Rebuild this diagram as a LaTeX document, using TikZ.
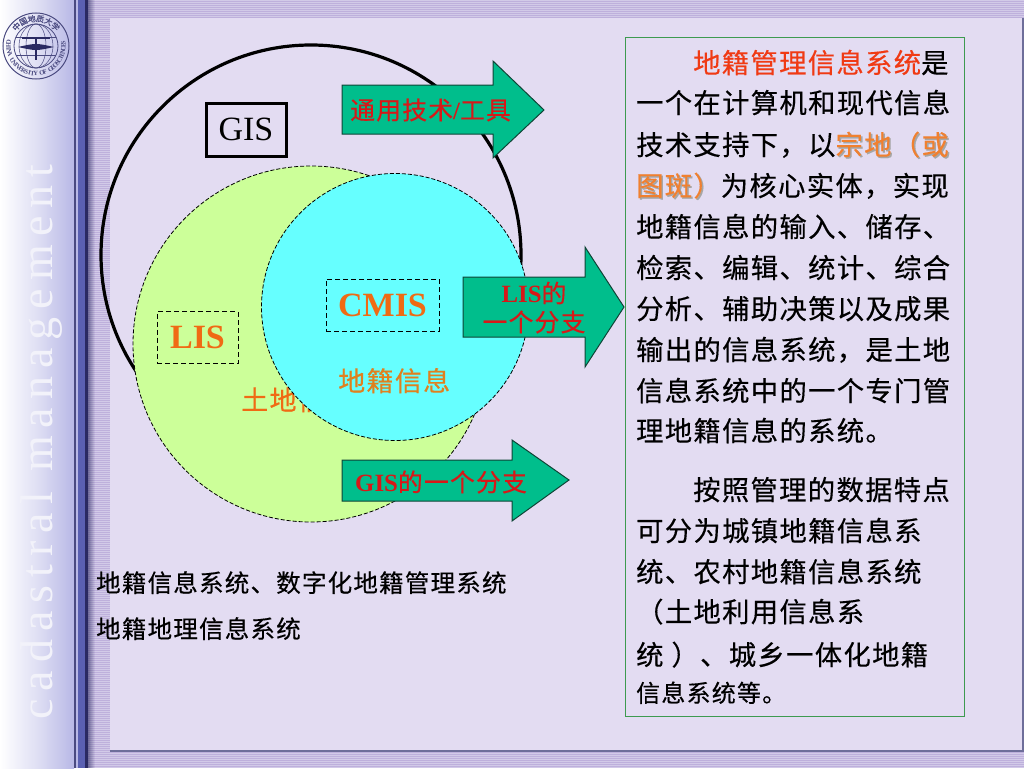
\documentclass[tikz,border=0pt]{standalone}
\usepackage{fontspec}
\setmainfont{Liberation Serif}
\newfontfamily\cjk[LetterSpace=5,FakeBold=0.35]{Noto Sans CJK SC}
\newfontfamily\wmark[LetterSpace=17.5]{Liberation Serif}
\usetikzlibrary{calc, positioning}
\definecolor{stripeA}{HTML}{BEB0DC}
\definecolor{stripeB}{HTML}{D2CAE8}
\definecolor{panelbg}{HTML}{E3DCF2}
\definecolor{sideblue}{HTML}{B8B8E6}
\definecolor{bandblue}{HTML}{5A60B2}
\definecolor{banddark}{HTML}{2A2A62}
\definecolor{limegreen}{HTML}{CCFF99}
\definecolor{cyanfill}{HTML}{66FFFF}
\definecolor{arrowgreen}{HTML}{00BE8C}
\definecolor{arrowedge}{HTML}{0F4436}
\definecolor{redtext}{HTML}{D81818}
\definecolor{orangetext}{HTML}{F06A14}
\definecolor{browntext}{HTML}{E0801E}
\definecolor{headred}{HTML}{F03A14}
\definecolor{shadeorange}{HTML}{F08030}
\definecolor{boxgreen}{HTML}{3D9A50}
\definecolor{logoblue}{HTML}{4A4A80}
\newcommand{\shadetext}[1]{\makebox[0pt][l]{\raisebox{-1.5pt}{\hspace{1.5pt}\textcolor{gray!70}{#1}}}\textcolor{shadeorange}{#1}}
\tikzset{
  dashcircle/.style={draw=black, dashed, line width=0.8pt, dash pattern=on 4pt off 2pt},
  dashlabel/.style={draw=black, line width=1pt, dash pattern=on 5pt off 3pt, minimum height=52pt, inner sep=0pt,
    text=orangetext, font=\fontsize{34}{36}\selectfont\bfseries},
  branch/.style={draw=arrowedge, fill=arrowgreen, line width=1pt},
  branchtext/.style={text=redtext, inner sep=0pt, font=\fontsize{24.8}{26}\selectfont\cjk},
  bodyline/.style={anchor=base west, inner sep=0pt, font=\fontsize{27.3}{30}\selectfont\cjk},
  logotext/.style={text=logoblue, inner sep=0pt},
}
\begin{document}
\begin{tikzpicture}[x=1pt, y=-1pt]
  \useasboundingbox (0,0) rectangle (1024,768);
  % side strip and band
  \shade[left color=white, right color=sideblue, middle color=sideblue!45] (0,0) rectangle (74,768);
  \fill[logoblue] (74,0) rectangle (76,768);
  \fill[sideblue] (76,0) rectangle (78,768);
  \fill[bandblue] (78,0) rectangle (85,768);
  \fill[banddark] (85,0) rectangle (88,768);
  % striped frame
  \fill[stripeA] (88,0) rectangle (1024,768);
  \foreach \ystripe in {1,3,...,767}
    \draw[stripeB, line width=1pt] (88,\ystripe) -- (1024,\ystripe);
  \foreach \k in {0,...,6}
    \fill[banddark, opacity=0.55-0.08*\k] (88+\k,0) rectangle (89+\k,768);
  \fill[panelbg] (110,18) rectangle (1024,750);
  \fill[logoblue!80] (110,749.5) rectangle (1024,752);
  \fill[logoblue!80] (1022,18) rectangle (1024,752);
  % lettering on the strip
  \node[rotate=90, anchor=base west, inner sep=0pt, text=white!82!sideblue,
    font=\fontsize{46}{48}\selectfont\wmark] (wmark) at (52,720) {cadastral\hspace{20pt}management};
  % emblem
  \coordinate (logo) at (36,46);
  \draw[logoblue, line width=1pt] (logo) circle (33);
  \draw[logoblue, line width=0.8pt] (logo) circle (22);
  \draw[logoblue, line width=0.5pt] (logo) ellipse (10 and 22);
  \draw[logoblue, line width=0.5pt] (logo) ellipse (17 and 22);
  \draw[logoblue, line width=0.5pt] ($(logo)+(-20,-9)$) -- ($(logo)+(20,-9)$);
  \draw[logoblue, line width=0.5pt] ($(logo)+(-20,9)$) -- ($(logo)+(20,9)$);
  \draw[banddark, line width=1.8pt] ($(logo)+(-14,-8)$) -- ($(logo)+(14,-8)$);
  \draw[banddark, line width=1.8pt] ($(logo)+(0,-8)$) -- ($(logo)+(0,14)$);
  \fill[banddark] ($(logo)+(-18,1)$) .. controls ($(logo)+(0,-3)$) .. ($(logo)+(18,1)$) .. controls ($(logo)+(0,5)$) .. cycle;
  \foreach \ch [count=\k] in {中,国,地,质,大,学}
    \node[logotext, rotate={(135-(\k-1)*18)-90}, font=\fontsize{8}{9}\selectfont\cjk] (logotop\k)
      at ({36+27.5*cos(135-(\k-1)*18)},{46-27.5*sin(135-(\k-1)*18)}) {\ch};
  \foreach \ch [count=\k] in {C,H,I,N,A,{},U,N,I,V,E,R,S,I,T,Y,{},O,F,{},G,E,O,S,C,I,E,N,C,E,S}
    \node[logotext, rotate={(172+(\k-1)*6.5)+90}, font=\fontsize{6.5}{7}\selectfont\bfseries] (logolow\k)
      at ({36+27.5*cos(172+(\k-1)*6.5)},{46-27.5*sin(172+(\k-1)*6.5)}) {\ch};
  % circles
  \draw[black, line width=3.2pt] (311,255) circle (210);
  \path[dashcircle, fill=limegreen] (311,344) circle (178);
  \node[anchor=base west, inner sep=0pt, text=orangetext, font=\fontsize{27}{30}\selectfont\cjk] (landinfo) at (241,410) {土地信息};
  \path[dashcircle, fill=cyanfill] (395,307) circle (133.5);
  % labels in the circles
  \node[draw=black, line width=3pt, minimum width=80pt, minimum height=53pt, inner sep=0pt,
    font=\fontsize{34}{36}\selectfont] (gis) at (246,129.5) {GIS\hspace{4pt}};
  \node[dashlabel, minimum width=81pt] (lis) at (197.5,337.5) {LIS\hspace{4pt}};
  \node[dashlabel, minimum width=113pt] (cmis) at (382.5,305) {CMIS};
  \node[anchor=base west, inner sep=0pt, text=browntext, font=\fontsize{27}{30}\selectfont\cjk] (cadinfo) at (338,391) {地籍信息};
  % arrows
  \draw[branch] (342,85) -- (493,85) -- (493,61) -- (544,110) -- (493,158) -- (493,134) -- (342,134) -- cycle;
  \draw[branch] (463,277) -- (585,277) -- (585,247) -- (624,307) -- (585,367) -- (585,337) -- (463,337) -- cycle;
  \draw[branch] (342,460) -- (512,460) -- (512,440) -- (569,480) -- (512,521) -- (512,501) -- (342,501) -- cycle;
  \node[branchtext, anchor=west] (tool) at (350,110) {通用技术{\rmfamily\bfseries /}工具};
  \node[branchtext, anchor=center] (lisof) at (534,293) {{\rmfamily\bfseries LIS}的};
  \node[branchtext, anchor=center] (lisbranch) at (534,322) {一个分支};
  \node[branchtext, anchor=west] (gisbranch) at (355,482) {{\rmfamily\bfseries GIS}的一个分支};
  % names under the circles
  \node[anchor=base west, inner sep=0pt, font=\fontsize{24.5}{26}\selectfont\cjk] (nameone) at (96,592) {地籍信息系统、数字化地籍管理系统};
  \node[anchor=base west, inner sep=0pt, font=\fontsize{24.5}{26}\selectfont\cjk] (nametwo) at (96,638) {地籍地理信息系统};
  % text box
  \draw[boxgreen, line width=1pt] (625,38) rectangle (964,716);
  \foreach \xtext/\ytext/\linetext [count=\i] in {
    693/63/{\textcolor{headred}{地籍管理信息系统}是},
    636/103/{一个在计算机和现代信息},
    636/145/{技术支持下，以\shadetext{宗地（或}},
    636/186/{\shadetext{图斑）}为核心实体，实现},
    636/227/{地籍信息的输入、储存、},
    636/268/{检索、编辑、统计、综合},
    636/309/{分析、辅助决策以及成果},
    636/350/{输出的信息系统，是土地},
    636/391/{信息系统中的一个专门管},
    636/431/{理地籍信息的系统。},
    693/490/{按照管理的数据特点},
    636/531/{可分为城镇地籍信息系},
    636/572/{统、农村地籍信息系统},
    636/612/{（土地利用信息系},
    636/655/{统\hspace{8pt}）、城乡一体化地籍}}
    \node[bodyline] (line\i) at (\xtext,\ytext+10) {\linetext};
  \node[bodyline, font=\fontsize{24}{26}\selectfont\cjk] (lastline) at (636,702) {信息系统等。};
\end{tikzpicture}
\end{document}
